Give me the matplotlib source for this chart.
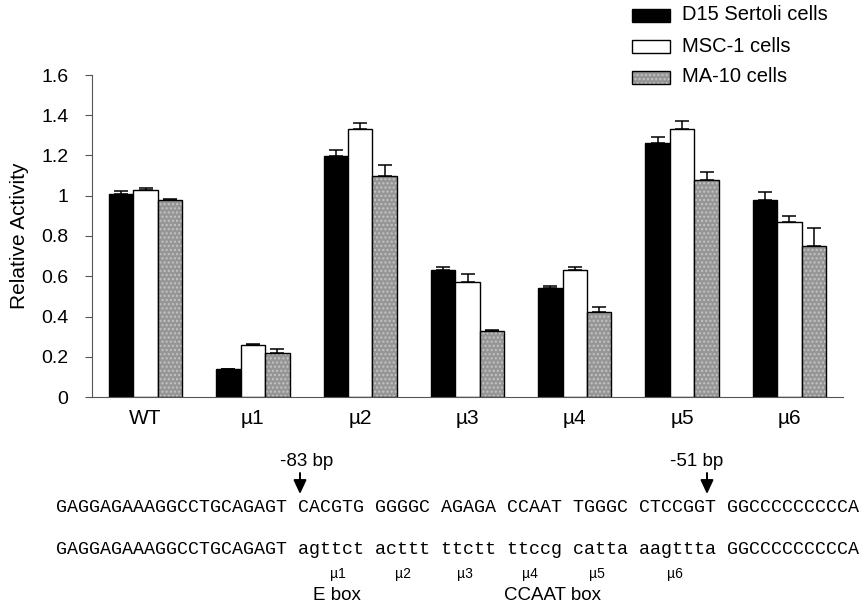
import numpy as np
import matplotlib
matplotlib.use("Agg")
import matplotlib.pyplot as plt
from matplotlib.patches import Rectangle, FancyArrowPatch

plt.rcParams["font.family"] = ["Liberation Sans", "DejaVu Sans"]

GROUPS = ["WT", "µ1", "µ2", "µ3", "µ4", "µ5", "µ6"]
SERIES = ["D15 Sertoli cells", "MSC-1 cells", "MA-10 cells"]

d15 = [1.01, 0.14, 1.20, 0.63, 0.54, 1.26, 0.98]
msc1 = [1.03, 0.26, 1.33, 0.57, 0.63, 1.33, 0.87]
ma10 = [0.98, 0.22, 1.10, 0.33, 0.42, 1.08, 0.75]

d15_err = [0.012, 0.0, 0.028, 0.017, 0.012, 0.033, 0.04]
msc1_err = [0.007, 0.005, 0.032, 0.04, 0.017, 0.04, 0.03]
ma10_err = [0.005, 0.018, 0.054, 0.005, 0.025, 0.04, 0.09]

SEQ_WT = "GAGGAGAAAGGCCTGCAGAGT CACGTG GGGGC AGAGA CCAAT TGGGC CTCCGGT GGCCCCCCCCCA"
SEQ_MUT = "GAGGAGAAAGGCCTGCAGAGT agttct acttt ttctt ttccg catta aagttta GGCCCCCCCCCA"
MUT_LABELS = ["µ1", "µ2", "µ3", "µ4", "µ5", "µ6"]

W, H = 859, 609
GREY, DOTS = "#969696", "#c4c4c4"


def px(xp, yp):
    # pixel position (from top-left) -> figure fraction
    return xp / W, 1 - yp / H


fig = plt.figure(figsize=(W / 100, H / 100), dpi=100)
ax = fig.add_axes([92 / W, 1 - 397 / H, (843 - 92) / W, (397 - 75) / H])

x = np.arange(len(GROUPS))
bw = 0.228
err_kw = dict(ecolor="black", elinewidth=1.1, capsize=4.8, capthick=1.1)

ax.bar(x - bw, d15, bw, color="black", edgecolor="black", linewidth=1,
       yerr=[np.zeros(7), d15_err], error_kw=err_kw)
ax.bar(x, msc1, bw, color="white", edgecolor="black", linewidth=1,
       yerr=[np.zeros(7), msc1_err], error_kw=err_kw)
# stippled grey bars: texture layer, then outline + error bars
ax.bar(x + bw, ma10, bw, color=GREY, edgecolor=DOTS, hatch="....",
       linewidth=0, zorder=2)
ax.bar(x + bw, ma10, bw, fill=False, edgecolor="black", linewidth=1, zorder=3,
       yerr=[np.zeros(7), ma10_err], error_kw=err_kw)

ax.set_xlim(-0.5, 6.5)
ax.set_ylim(0, 1.6)
ax.set_yticks(np.arange(0, 1.61, 0.2))
ax.set_yticklabels(["0", "0.2", "0.4", "0.6", "0.8", "1", "1.2", "1.4", "1.6"])
ax.set_xticks(x)
ax.set_xticklabels(GROUPS)
ax.tick_params(axis="y", direction="out", length=5, width=0.8, pad=12,
               labelsize=14, color="#555555")
ax.tick_params(axis="x", length=0, pad=9, labelsize=15)
for s in ["top", "right"]:
    ax.spines[s].set_visible(False)
for s in ["left", "bottom"]:
    ax.spines[s].set_color("#555555")
    ax.spines[s].set_linewidth(0.8)
ax.set_ylabel("Relative Activity", fontsize=15, labelpad=9)

# legend in the top right corner
for i, name in enumerate(SERIES):
    yc = 15 + i * 31
    pos = px(632, yc + 6.5)
    if i == 2:
        fig.patches.append(Rectangle(pos, 38 / W, 13 / H, transform=fig.transFigure,
                                     facecolor=GREY, edgecolor=DOTS, hatch="....",
                                     linewidth=0))
    fc = ["black", "white", "none"][i]
    fig.patches.append(Rectangle(pos, 38 / W, 13 / H, transform=fig.transFigure,
                                 facecolor=fc, edgecolor="black", linewidth=1))
    fig.text(*px(682, yc), name, fontsize=14.5, va="center", ha="left")

# promoter sequences
seq_font = dict(family="Liberation Mono", fontsize=13.2, va="center", ha="left")
fig.text(*px(56, 507), SEQ_WT, **seq_font)
fig.text(*px(56, 550), SEQ_MUT, **seq_font)

mut_x = [338, 403, 465, 530, 597, 675]
for lab, mx in zip(MUT_LABELS, mut_x):
    fig.text(*px(mx, 574), lab, fontsize=10, ha="center", va="center")

fig.text(*px(337, 596), "E box", fontsize=13.5, ha="center", va="center")
fig.text(*px(552, 596), "CCAAT box", fontsize=13.5, ha="center", va="center")

fig.text(*px(307, 461), "-83 bp", fontsize=13.5, ha="center", va="center")
fig.text(*px(697, 461), "-51 bp", fontsize=13.5, ha="center", va="center")
for arrow_x in [300, 707]:
    fig.add_artist(FancyArrowPatch(
        px(arrow_x, 473), px(arrow_x, 494), transform=fig.transFigure,
        arrowstyle="-|>,head_length=0.6,head_width=0.28", color="black",
        linewidth=1.4, mutation_scale=14, shrinkA=0, shrinkB=0))

fig.savefig("out.png", dpi=100)
